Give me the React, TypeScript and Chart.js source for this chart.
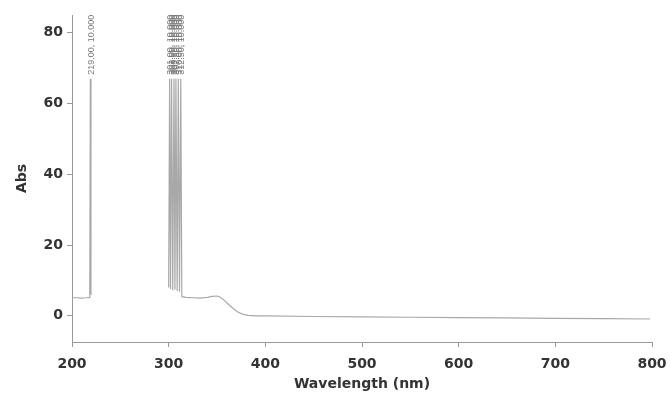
import { useEffect, useRef } from 'react';
import { Chart, registerables } from 'chart.js';

Chart.register(...registerables);

// Spectrum data (wavelength nm, absorbance); null = off-scale / not drawn
const wavelengths = [
  200, 205, 210, 215, 218.4, 219, 219.6, 220.5, 221,
  300, 301, 301.9, 303, 304.2, 305.5, 306.5, 307.5, 308.8, 310, 311.2, 312.5, 313.6,
  318, 325, 332, 340, 345, 350, 353, 357, 362, 367, 372, 377, 382, 390,
  400, 450, 500, 550, 600, 650, 700, 750, 798,
];
const absorbance = [
  5.1, 5.1, 5.0, 5.1, 5.2, 67, 6.2, 6.0, null,
  8, 67, 7.5, 67, 7.2, 67, 7.4, 67, 7.0, 67, 6.8, 67, 5.4,
  5.2, 5.1, 5.0, 5.2, 5.5, 5.6, 5.3, 4.5, 3.2, 2.0, 1.0, 0.4, 0.1, 0.0,
  0.0, -0.2, -0.3, -0.4, -0.5, -0.6, -0.7, -0.8, -0.9,
];

// Peak-pick annotations
const peakWavelengths = [219, 301, 303, 305.5, 307.5, 310, 312.5];
const peakValues = [67, 67, 67, 67, 67, 67, 67];
const peakLabels = [
  '219.00, 10.000',
  '301.00, 10.000',
  '303.00, 10.000',
  '305.50, 10.000',
  '307.50, 10.000',
  '310.00, 10.000',
  '312.50, 10.000',
];

const xTicks = [200, 300, 400, 500, 600, 700, 800];
const yTicks = [0, 20, 40, 60, 80];

const FONT = "'DejaVu Sans', Arial, sans-serif";
const LABEL_FONT = "'Liberation Sans', Arial, sans-serif";

const peakLabelPlugin = {
  id: 'peakLabels',
  afterDatasetsDraw(chart: any) {
    const { ctx, scales } = chart;
    ctx.save();
    ctx.font = `9px ${LABEL_FONT}`;
    ctx.fillStyle = '#7a7a7a';
    ctx.textAlign = 'left';
    ctx.textBaseline = 'middle';
    peakWavelengths.forEach((w, i) => {
      const x = scales.x.getPixelForValue(w);
      const y = scales.y.getPixelForValue(peakValues[i]) - 4;
      ctx.save();
      ctx.translate(x + 1, y);
      ctx.rotate(-Math.PI / 2);
      ctx.fillText(peakLabels[i], 0, 0);
      ctx.restore();
    });
    ctx.restore();
  },
};

export default function App() {
  const canvasRef = useRef<HTMLCanvasElement | null>(null);

  useEffect(() => {
    if (!canvasRef.current) return;
    const chart = new Chart(canvasRef.current, {
      type: 'line',
      data: {
        datasets: [
          {
            data: wavelengths.map((w, i) => ({ x: w, y: absorbance[i] as any })),
            borderColor: '#a8a8a8',
            borderWidth: 1.2,
            pointRadius: 0,
            tension: 0,
            spanGaps: false,
            fill: false,
          },
        ],
      },
      options: {
        animation: false,
        responsive: true,
        maintainAspectRatio: false,
        layout: { padding: { top: 15, right: 18, left: 0, bottom: 0 } },
        plugins: {
          legend: { display: false },
          tooltip: { enabled: false },
        },
        scales: {
          x: {
            type: 'linear',
            min: 200,
            max: 800,
            afterBuildTicks: (scale: any) => {
              scale.ticks = xTicks.map((v) => ({ value: v }));
            },
            afterFit: (scale: any) => {
              scale.height = 52;
              scale.paddingLeft = 0;
              scale.paddingRight = 0;
            },
            grid: { drawOnChartArea: false, drawTicks: true, tickLength: 5, color: '#999' },
            border: { display: true, color: '#999', width: 1 },
            ticks: {
              color: '#333',
              font: { family: FONT, size: 14, weight: 'bold' },
              padding: 9,
              maxRotation: 0,
            },
            title: {
              display: true,
              text: 'Wavelength (nm)',
              color: '#333',
              font: { family: FONT, size: 14, weight: 'bold' },
              padding: { top: 0, bottom: 1 },
            },
          },
          y: {
            type: 'linear',
            min: -7.4,
            max: 85,
            afterBuildTicks: (scale: any) => {
              scale.ticks = yTicks.map((v) => ({ value: v }));
            },
            afterFit: (scale: any) => {
              scale.width = 72;
              scale.paddingTop = 0;
              scale.paddingBottom = 0;
            },
            grid: { drawOnChartArea: false, drawTicks: true, tickLength: 5, color: '#999' },
            border: { display: true, color: '#999', width: 1 },
            ticks: {
              color: '#333',
              font: { family: FONT, size: 14, weight: 'bold' },
              padding: 4,
            },
            title: {
              display: true,
              text: 'Abs',
              color: '#333',
              font: { family: FONT, size: 14, weight: 'bold' },
              padding: { top: 14, bottom: 4 },
            },
          },
        },
      },
      plugins: [peakLabelPlugin],
    });
    return () => chart.destroy();
  }, []);

  return (
    <div
      style={{
        position: 'fixed',
        left: 0,
        top: 0,
        width: 670,
        height: 394,
        background: '#fff',
      }}
    >
      <canvas ref={canvasRef} />
    </div>
  );
}
